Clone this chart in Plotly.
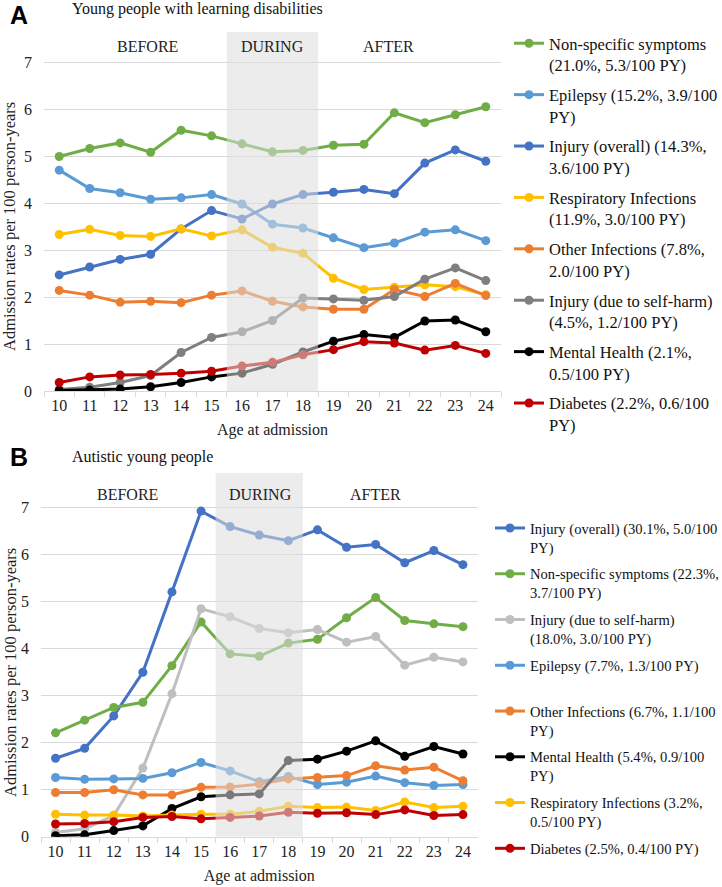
import plotly.graph_objects as go

# --------------------------------------------------------------------------
# DATA
# --------------------------------------------------------------------------
AGES = [str(a) for a in range(10, 25)]

# Panel A - young people with learning disabilities
A_NONSPEC = [4.99, 5.16, 5.28, 5.08, 5.55, 5.43, 5.26, 5.09, 5.12, 5.23, 5.25, 5.92, 5.71, 5.88, 6.05]
A_EPILEPSY = [4.70, 4.31, 4.22, 4.08, 4.11, 4.18, 3.98, 3.55, 3.47, 3.26, 3.05, 3.15, 3.38, 3.43, 3.20]
A_INJURY = [2.47, 2.64, 2.80, 2.91, 3.45, 3.84, 3.66, 3.98, 4.18, 4.23, 4.29, 4.20, 4.85, 5.13, 4.89]
A_RESP = [3.33, 3.44, 3.31, 3.29, 3.45, 3.30, 3.43, 3.06, 2.93, 2.40, 2.16, 2.21, 2.26, 2.22, 2.05]
A_OTHERINF = [2.14, 2.04, 1.89, 1.91, 1.88, 2.04, 2.13, 1.91, 1.79, 1.74, 1.74, 2.16, 2.01, 2.29, 2.03]
A_SELFHARM = [0.03, 0.08, 0.18, 0.33, 0.82, 1.14, 1.26, 1.50, 1.98, 1.96, 1.93, 2.01, 2.38, 2.62, 2.35]
A_MENTAL = [0.01, 0.02, 0.04, 0.09, 0.18, 0.30, 0.38, 0.57, 0.83, 1.06, 1.20, 1.14, 1.49, 1.51, 1.26]
A_DIABETES = [0.18, 0.30, 0.34, 0.35, 0.38, 0.42, 0.53, 0.61, 0.77, 0.88, 1.05, 1.02, 0.87, 0.97, 0.80]

# Panel B - autistic young people
B_INJURY = [1.67, 1.88, 2.57, 3.50, 5.21, 6.93, 6.60, 6.42, 6.30, 6.53, 6.16, 6.22, 5.83, 6.09, 5.79]
B_NONSPEC = [2.21, 2.48, 2.75, 2.86, 3.64, 4.57, 3.89, 3.84, 4.12, 4.20, 4.66, 5.09, 4.60, 4.53, 4.47]
B_SELFHARM = [0.09, 0.17, 0.45, 1.46, 3.04, 4.85, 4.68, 4.43, 4.34, 4.41, 4.14, 4.26, 3.65, 3.82, 3.72]
B_EPILEPSY = [1.26, 1.22, 1.23, 1.24, 1.36, 1.58, 1.40, 1.17, 1.28, 1.11, 1.16, 1.29, 1.15, 1.09, 1.11]
B_OTHERINF = [0.94, 0.94, 1.00, 0.89, 0.89, 1.05, 1.06, 1.12, 1.23, 1.26, 1.30, 1.51, 1.42, 1.48, 1.19]
B_MENTAL = [0.02, 0.04, 0.13, 0.23, 0.60, 0.85, 0.89, 0.91, 1.62, 1.65, 1.82, 2.04, 1.71, 1.92, 1.76]
B_RESP = [0.48, 0.46, 0.46, 0.44, 0.46, 0.48, 0.48, 0.54, 0.65, 0.62, 0.63, 0.56, 0.74, 0.62, 0.65]
B_DIABETES = [0.27, 0.28, 0.32, 0.41, 0.43, 0.38, 0.41, 0.44, 0.52, 0.50, 0.51, 0.47, 0.57, 0.45, 0.47]

A_NAMES = [
    "Non-specific symptoms<br>(21.0%, 5.3/100 PY)",
    "Epilepsy (15.2%, 3.9/100<br>PY)",
    "Injury (overall) (14.3%,<br>3.6/100 PY)",
    "Respiratory Infections<br>(11.9%, 3.0/100 PY)",
    "Other Infections (7.8%,<br>2.0/100 PY)",
    "Injury (due to self-harm)<br>(4.5%, 1.2/100 PY)",
    "Mental Health (2.1%,<br>0.5/100 PY)",
    "Diabetes (2.2%, 0.6/100<br>PY)",
]
B_NAMES = [
    "Injury (overall) (30.1%, 5.0/100<br>PY)",
    "Non-specific symptoms (22.3%,<br>3.7/100 PY)",
    "Injury (due to self-harm)<br>(18.0%, 3.0/100 PY)",
    "Epilepsy (7.7%, 1.3/100 PY)<br> ",
    "Other Infections (6.7%, 1.1/100<br>PY)",
    "Mental Health (5.4%, 0.9/100<br>PY)",
    "Respiratory Infections (3.2%,<br>0.5/100 PY)",
    "Diabetes (2.5%, 0.4/100 PY)",
]

PERIODS = ["BEFORE", "DURING", "AFTER"]
A_PERIOD_X = [2.9, 7.0, 10.82]
B_PERIOD_X = [2.47, 7.03, 11.0]

# --------------------------------------------------------------------------
# STYLE
# --------------------------------------------------------------------------
C_GREEN = "#70ad47"
C_LBLUE = "#5b9bd5"
C_BLUE = "#4472c4"
C_YELLOW = "#ffc000"
C_ORANGE = "#ed7d31"
C_GREY = "#7f7f7f"
C_LGREY = "#bfbfbf"
C_BLACK = "#000000"
C_RED = "#c00000"
C_GRID = "#d9d9d9"
SERIF = "Liberation Serif, Times New Roman, serif"

W, H = 722, 887


def px_x(p):
    return p / W


def px_y(p):
    return 1 - p / H


fig = go.Figure()

a_series = [A_NONSPEC, A_EPILEPSY, A_INJURY, A_RESP, A_OTHERINF, A_SELFHARM, A_MENTAL, A_DIABETES]
a_colors = [C_GREEN, C_LBLUE, C_BLUE, C_YELLOW, C_ORANGE, C_GREY, C_BLACK, C_RED]
b_series = [B_INJURY, B_NONSPEC, B_SELFHARM, B_EPILEPSY, B_OTHERINF, B_MENTAL, B_RESP, B_DIABETES]
b_colors = [C_BLUE, C_GREEN, C_LGREY, C_LBLUE, C_ORANGE, C_BLACK, C_YELLOW, C_RED]

for i, (vals, col, name) in enumerate(zip(a_series, a_colors, A_NAMES)):
    fig.add_trace(
        go.Scatter(
            x=AGES, y=vals, name=name, mode="lines+markers",
            line=dict(color=col, width=3), marker=dict(color=col, size=9),
            xaxis="x", yaxis="y", legend="legend", legendgroup=f"a{i}",
        )
    )

for i, (vals, col, name) in enumerate(zip(b_series, b_colors, B_NAMES)):
    fig.add_trace(
        go.Scatter(
            x=AGES, y=vals, name=name, mode="lines+markers",
            line=dict(color=col, width=3), marker=dict(color=col, size=9),
            xaxis="x2", yaxis="y2", legend="legend2", legendgroup=f"b{i}",
        )
    )

# shaded "during" band, drawn above lines so they look faded
for xr, yr, top in [("x", "y", 7.64), ("x2", "y2", 7.74)]:
    fig.add_shape(
        type="rect", xref=xr, yref=yr, x0=5.5, x1=8.5, y0=0, y1=top,
        fillcolor="rgba(220,220,220,0.55)", line_width=0, layer="above",
    )

for xr, yr, xs, yv in [("x", "y", A_PERIOD_X, 7.33), ("x2", "y2", B_PERIOD_X, 7.28)]:
    for lab, xv in zip(PERIODS, xs):
        fig.add_annotation(
            x=xv, y=yv, xref=xr, yref=yr, text=lab, showarrow=False,
            font=dict(family=SERIF, size=16, color="#222"),
        )

# panel letters and titles
for letter, ly in [("A", 15), ("B", 457)]:
    fig.add_annotation(
        x=px_x(19), y=px_y(ly), xref="paper", yref="paper", text=f"<b>{letter}</b>",
        xanchor="center", yanchor="middle", showarrow=False,
        font=dict(family="Liberation Sans, Arial", size=25, color="black"),
    )
for title, ty in [("Young people with learning disabilities", 9), ("Autistic young people", 457)]:
    fig.add_annotation(
        x=px_x(70), y=px_y(ty), xref="paper", yref="paper", text=title,
        xanchor="left", yanchor="middle", showarrow=False,
        font=dict(family=SERIF, size=16, color="#111"),
    )

# y titles
for ty in [227, 673]:
    fig.add_annotation(
        x=px_x(10), y=px_y(ty), xref="paper", yref="paper",
        text="Admission rates per 100 person-years", textangle=-90,
        xanchor="center", yanchor="middle", showarrow=False,
        font=dict(family=SERIF, size=16.5, color="#222"),
    )

xaxis_common = dict(
    type="category", tickson="boundaries", ticks="outside", ticklen=5, tickcolor=C_GRID,
    showline=True, linecolor=C_GRID, linewidth=1, showgrid=False,
    tickfont=dict(family=SERIF, size=16, color="#222"),
    title=dict(text="Age at admission", font=dict(family=SERIF, size=16, color="#222"), standoff=10),
    range=[-0.5, 14.5],
)
yaxis_common = dict(
    showgrid=True, gridcolor=C_GRID, gridwidth=1, zeroline=False, showline=False,
    tickvals=list(range(0, 8)), tickfont=dict(family=SERIF, size=16, color="#222"),
    ticks="", ticklabelstandoff=11,
)

fig.update_layout(
    width=W, height=H,
    margin=dict(l=0, r=0, t=0, b=0, autoexpand=False),
    paper_bgcolor="white", plot_bgcolor="white",
    font=dict(family=SERIF),
    xaxis=dict(**xaxis_common, domain=[px_x(44), px_x(501)], anchor="y"),
    yaxis=dict(**yaxis_common, domain=[px_y(391), px_y(32)], range=[0, 7.64], anchor="x"),
    xaxis2=dict(**xaxis_common, domain=[px_x(41), px_x(477.5)], anchor="y2"),
    yaxis2=dict(**yaxis_common, domain=[px_y(836.7), px_y(473)], range=[0, 7.74], anchor="x2"),
    legend=dict(
        x=px_x(509), y=px_y(26), xanchor="left", yanchor="top",
        font=dict(family=SERIF, size=16.5, color="#111"), valign="top",
        tracegroupgap=5.5, bgcolor="rgba(0,0,0,0)",
    ),
    legend2=dict(
        x=px_x(490), y=px_y(512), xanchor="left", yanchor="top",
        font=dict(family=SERIF, size=14.6, color="#111"), valign="top",
        tracegroupgap=4.8, bgcolor="rgba(0,0,0,0)",
    ),
    showlegend=True,
)

# the page body gets the browser's default 8px margin otherwise
fig.write_html(
    "out.html",
    config={"displayModeBar": False},
    post_script="document.body.style.margin='0';",
)
